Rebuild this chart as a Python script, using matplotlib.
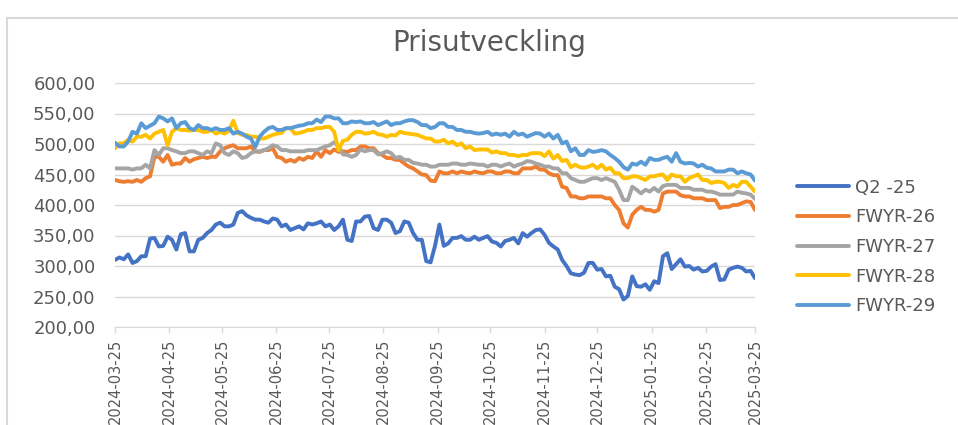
import matplotlib
matplotlib.use("Agg")
from matplotlib import pyplot as plt
from matplotlib.lines import Line2D
import matplotlib.dates as mdates
import matplotlib.ticker as mticker
import pandas as pd

# readings every 2.5 days, 2024-03-25 .. 2025-03-25
dates = pd.date_range("2024-03-25", "2025-03-25", freq="60h")

# values on day 0, 5, 10, ... and the readings in between (day 2.5, 7.5, ...)
q2_25 = [310, 311, 305, 316, 345, 332, 348, 327, 354, 324, 346, 359, 371, 365, 387, 383, 376, 373, 378, 365,
         359, 365, 370, 370, 365, 359, 376, 341, 373, 382, 359, 376, 354, 373, 354, 343, 306, 368, 337, 346,
         343, 348, 346, 340, 332, 343, 337, 348, 359, 351, 332, 310, 288, 285, 305, 294, 283, 266, 245, 283,
         266, 261, 272, 321, 303, 299, 294, 291, 299, 277, 294, 299, 291, 280]
q2_25_mid = [314, 319, 308, 316, 346, 333, 343, 352, 324, 343, 354, 368, 365, 368, 390, 379, 376, 371, 376,
             368, 362, 360, 368, 373, 368, 365, 343, 373, 381, 362, 376, 371, 357, 371, 343, 308, 333,
             333, 346, 349, 343, 343, 349, 338, 341, 346, 354, 354, 360, 338, 327, 300, 286, 289, 305,
             295, 284, 262, 251, 267, 270, 275, 316, 295, 311, 300, 297, 292, 303, 278, 297, 297, 292]

fwyr_26 = [441, 438, 438, 438, 447, 479, 482, 468, 477, 475, 479, 479, 488, 496, 493, 493, 488, 490, 493, 477,
           474, 477, 479, 488, 490, 491, 488, 490, 496, 493, 485, 477, 474, 468, 460, 450, 440, 455, 452, 452,
           453, 455, 452, 455, 452, 455, 452, 460, 463, 458, 449, 430, 414, 411, 414, 414, 411, 400, 370, 384,
           397, 392, 392, 422, 422, 414, 411, 411, 408, 395, 397, 400, 406, 392]
fwyr_26_mid = [439, 439, 441, 444, 479, 471, 466, 468, 471, 477, 477, 479, 493, 498, 493, 496, 487, 490, 479,
               471, 471, 474, 477, 479, 485, 487, 487, 490, 496, 493, 482, 477, 474, 463, 455, 449, 439,
               452, 455, 455, 452, 453, 455, 452, 455, 452, 460, 460, 458, 452, 449, 428, 414, 411, 414,
               414, 411, 392, 363, 392, 392, 389, 419, 422, 416, 414, 411, 408, 408, 397, 400, 403, 405]

fwyr_27 = [460, 460, 458, 460, 460, 482, 493, 488, 485, 488, 482, 485, 498, 482, 485, 479, 488, 490, 498, 490,
           488, 488, 490, 490, 496, 503, 483, 479, 491, 490, 483, 488, 477, 474, 469, 466, 463, 466, 466, 468,
           466, 467, 466, 466, 463, 468, 466, 472, 468, 463, 460, 452, 444, 438, 441, 444, 444, 438, 408, 430,
           419, 422, 422, 433, 433, 428, 425, 425, 422, 417, 417, 422, 419, 410]
fwyr_27_mid = [460, 460, 460, 466, 490, 493, 490, 485, 488, 485, 488, 501, 485, 488, 477, 485, 488, 493, 496,
               490, 488, 488, 490, 493, 498, 496, 482, 482, 488, 490, 485, 485, 479, 474, 468, 466, 463,
               466, 468, 466, 468, 466, 463, 466, 466, 463, 468, 471, 466, 463, 460, 452, 441, 438, 444,
               441, 441, 425, 408, 425, 425, 428, 431, 433, 428, 428, 425, 422, 420, 417, 417, 420, 417]

fwyr_28 = [493, 501, 504, 512, 509, 520, 498, 526, 523, 523, 520, 523, 520, 522, 518, 515, 512, 509, 515, 518,
           526, 518, 523, 526, 528, 520, 505, 515, 520, 518, 516, 512, 514, 518, 516, 512, 509, 504, 501, 498,
           493, 490, 491, 486, 485, 482, 480, 482, 485, 480, 476, 472, 462, 462, 463, 460, 458, 452, 444, 447,
           444, 447, 449, 441, 447, 438, 447, 441, 436, 438, 428, 430, 438, 422]
fwyr_28_mid = [501, 507, 512, 515, 517, 523, 520, 523, 522, 523, 520, 517, 517, 538, 515, 512, 509, 512, 517,
               526, 517, 520, 523, 526, 528, 490, 507, 520, 517, 520, 515, 515, 520, 517, 515, 509, 504,
               507, 504, 501, 496, 491, 491, 488, 485, 482, 482, 485, 485, 488, 482, 474, 466, 461, 466,
               466, 461, 452, 444, 447, 441, 447, 450, 450, 447, 444, 450, 441, 438, 436, 433, 438, 430]

fwyr_29 = [502, 496, 520, 534, 530, 545, 537, 526, 536, 523, 526, 523, 523, 526, 520, 512, 495, 520, 528, 523,
           526, 530, 534, 540, 545, 542, 534, 537, 537, 534, 531, 537, 534, 537, 539, 531, 526, 534, 528, 523,
           520, 518, 518, 515, 515, 512, 515, 512, 518, 512, 509, 501, 488, 482, 490, 488, 488, 477, 462, 468,
           471, 477, 474, 479, 485, 468, 468, 466, 460, 455, 458, 452, 452, 440]
fwyr_29_mid = [496, 504, 517, 526, 534, 542, 542, 534, 526, 531, 526, 526, 523, 517, 517, 509, 512, 526, 523,
               526, 528, 531, 534, 536, 545, 542, 534, 536, 534, 536, 534, 531, 534, 539, 536, 531, 528,
               534, 528, 523, 520, 517, 520, 517, 517, 520, 517, 515, 517, 517, 515, 504, 493, 482, 487,
               490, 482, 471, 458, 466, 466, 474, 477, 471, 471, 469, 463, 461, 455, 455, 458, 455, 450]


def interleave(main, mid):
    out = []
    for i, v in enumerate(main):
        out.append(v)
        if i < len(mid):
            out.append(mid[i])
    return out


series = [("Q2 -25", interleave(q2_25, q2_25_mid), "#4472C4"),
          ("FWYR-26", interleave(fwyr_26, fwyr_26_mid), "#ED7D31"),
          ("FWYR-27", interleave(fwyr_27, fwyr_27_mid), "#A5A5A5"),
          ("FWYR-28", interleave(fwyr_28, fwyr_28_mid), "#FFC000"),
          ("FWYR-29", interleave(fwyr_29, fwyr_29_mid), "#5B9BD5")]

txt = "#595959"
grid = "#D9D9D9"

fig = plt.figure(figsize=(9.58, 4.25), dpi=100)
ax = fig.add_axes([115 / 958, 1 - 327 / 425, 640 / 958, 244 / 425])

# chart border like the excel frame
fig.add_artist(Line2D([7 / 958, 7 / 958], [0, 1 - 18 / 425], transform=fig.transFigure, color=grid, lw=1.5))
fig.add_artist(Line2D([7 / 958, 1], [1 - 18 / 425, 1 - 18 / 425], transform=fig.transFigure, color=grid, lw=1.5))

for name, vals, col in series:
    ax.plot(dates, vals, color=col, lw=2.8, label=name, solid_joinstyle="round", solid_capstyle="round")

ax.set_ylim(200, 600)
ax.set_yticks(range(200, 601, 50))
ax.yaxis.set_major_formatter(mticker.FuncFormatter(lambda v, p: f"{v:.2f}".replace(".", ",")))
ax.set_xlim(pd.Timestamp("2024-03-25"), pd.Timestamp("2025-03-25"))
ax.xaxis.set_major_locator(mdates.MonthLocator(bymonthday=25))
ax.xaxis.set_major_formatter(mdates.DateFormatter("%Y-%m-%d"))

ax.grid(axis="y", color=grid, lw=1)
ax.set_axisbelow(True)
for s in ["top", "right", "left"]:
    ax.spines[s].set_visible(False)
ax.spines["bottom"].set_color(grid)
ax.tick_params(axis="y", length=0, pad=14, labelsize=13, labelcolor=txt)
ax.tick_params(axis="x", length=4.5, width=1, color=grid, pad=4, labelsize=10.5, labelcolor=txt, labelrotation=90)

fig.text(489 / 958, 1 - 43 / 425, "Prisutveckling", ha="center", va="center", fontsize=20, color=txt)

fig.legend(loc="center left", bbox_to_anchor=(797 / 958, 1 - 247 / 425), frameon=False, fontsize=13,
           labelcolor=txt, handlelength=2.9, handletextpad=0.3, labelspacing=0.65, borderpad=0, borderaxespad=0)

fig.savefig("out.png", dpi=100)
